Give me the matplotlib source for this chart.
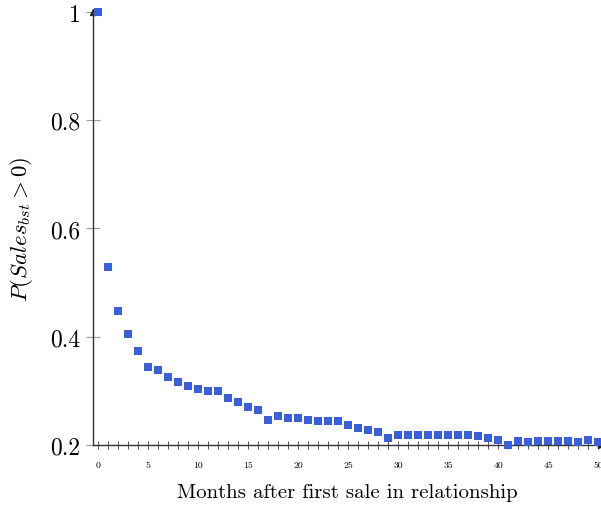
import numpy as np
import matplotlib.pyplot as plt

plt.rcParams['mathtext.fontset'] = 'cm'
plt.rcParams['font.family'] = ['cmr10']
plt.rcParams['axes.formatter.use_mathtext'] = True

# months after first sale and share of relationships with sales
months = np.arange(0, 51)
p_sales = [1.000, 0.529, 0.448, 0.405, 0.374, 0.344, 0.339, 0.326, 0.316, 0.309,
           0.304, 0.300, 0.300, 0.287, 0.280, 0.270, 0.265, 0.246, 0.254, 0.250,
           0.249, 0.246, 0.245, 0.244, 0.244, 0.237, 0.231, 0.228, 0.224, 0.213,
           0.219, 0.218, 0.218, 0.218, 0.218, 0.218, 0.218, 0.218, 0.217, 0.213,
           0.209, 0.200, 0.207, 0.206, 0.207, 0.207, 0.207, 0.208, 0.206, 0.209,
           0.205]

y_ticks = [0.2, 0.4, 0.6, 0.8, 1.0]
y_labels = ['0.2', '0.4', '0.6', '0.8', '1']
x_ticks = list(range(0, 51, 5))

fig = plt.figure(figsize=(6.01, 5.06), dpi=100)
ax = fig.add_axes([0.1547, 0.1186, 0.845, 0.8557])

ax.plot(months, p_sales, 's', color='#3b5fd9', markersize=5.8,
        markeredgewidth=0, clip_on=False, zorder=3)

ax.set_xlim(-0.53, 50.27)
ax.set_ylim(0.2, 1.0)

for side in ['top', 'right']:
    ax.spines[side].set_visible(False)
for side in ['left', 'bottom']:
    ax.spines[side].set_linewidth(1.0)
    ax.spines[side].set_color('#333333')

# arrow heads at the end of the axes
ax.plot(0, 1, marker='^', color='#222222', markersize=4, transform=ax.transAxes, clip_on=False)
ax.plot(1, 0, marker='>', color='#222222', markersize=4, transform=ax.transAxes, clip_on=False)

ax.set_yticks(y_ticks)
ax.set_yticklabels(y_labels, fontsize=17)
ax.tick_params(axis='y', direction='inout', length=10, width=0.8, color='#999999', pad=4)

ax.set_xticks(x_ticks)
ax.set_xticklabels([str(t) for t in x_ticks], fontsize=7)
ax.set_xticks(months, minor=True)
ax.tick_params(axis='x', which='both', direction='inout', length=6, width=0.7,
               color='#555555', pad=8)

ax.set_xlabel('Months after first sale in relationship', fontsize=15, labelpad=10)
ax.set_ylabel(r'$P(Sales_{bst} > 0)$', fontsize=16.5, labelpad=11)

fig.savefig('out.png', dpi=100)
